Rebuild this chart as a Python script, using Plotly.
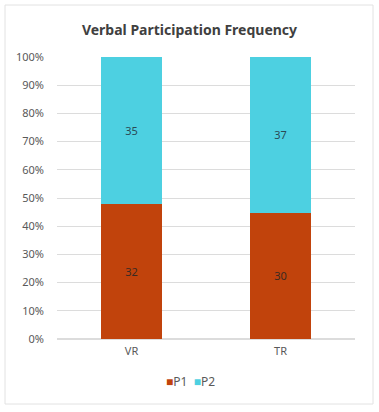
import plotly.graph_objects as go

categories = ["VR", "TR"]
p1_values = [32, 30]
p2_values = [35, 37]
tick_vals = [0, 10, 20, 30, 40, 50, 60, 70, 80, 90, 100]
tick_text = [f"{v}%" for v in tick_vals]
series_names = ["P1", "P2"]

FONT = "Noto Sans, Open Sans, sans-serif"
P1_COLOR = "#C1430C"
P2_COLOR = "#4DD0E1"

fig = go.Figure()
fig.add_trace(go.Bar(
    name=series_names[0], x=categories, y=p1_values,
    marker=dict(color=P1_COLOR, line=dict(width=0)),
    text=[str(v) for v in p1_values], textposition="inside",
    insidetextanchor="middle",
    textfont=dict(color="#3a2a22", size=11, family=FONT),
    showlegend=False,
))
fig.add_trace(go.Bar(
    name=series_names[1], x=categories, y=p2_values,
    marker=dict(color=P2_COLOR, line=dict(width=0)),
    text=[str(v) for v in p2_values], textposition="inside",
    insidetextanchor="middle",
    textfont=dict(color="#2b4a55", size=11, family=FONT),
    showlegend=False,
))

fig.update_layout(
    barmode="stack",
    barnorm="percent",
    bargap=0.59,
    width=379, height=412,
    margin=dict(l=57, r=24, t=57, b=73, autoexpand=False),
    paper_bgcolor="white",
    plot_bgcolor="white",
    font=dict(family=FONT, color="#595959", size=11),
    title=dict(
        text="<b>Verbal Participation Frequency</b>",
        x=0.5, xref="container", xanchor="center",
        y=1 - 30 / 412, yref="container", yanchor="middle",
        font=dict(size=14, color="#404040", family=FONT),
    ),
    showlegend=False,
)
fig.update_yaxes(
    range=[0, 100],
    tickvals=tick_vals, ticktext=tick_text,
    showgrid=True, gridcolor="#dcdcdc", gridwidth=1,
    zeroline=True, zerolinecolor="#dcdcdc",
    showline=False, ticks="",
    ticklabelstandoff=12,
    tickfont=dict(size=11, color="#595959"),
    automargin=False,
    fixedrange=True,
)
fig.update_xaxes(
    showline=False, ticks="",
    tickfont=dict(size=11, color="#595959"),
    ticklabelstandoff=4,
    automargin=False,
)

# legend drawn as text: small coloured squares next to series names
legend_text = (
    f"<span style='color:{P1_COLOR}'>■</span>{series_names[0]}"
    f"&nbsp;&nbsp;<span style='color:{P2_COLOR}'>■</span>{series_names[1]}"
)
fig.add_annotation(
    text=legend_text, xref="paper", yref="paper",
    x=(190 - 57) / 298, y=(339 - 381) / 282,
    xanchor="center", yanchor="middle", showarrow=False,
    font=dict(size=12, color="#595959", family=FONT),
)

# light outer frame of the chart
fig.add_shape(
    type="rect", xref="paper", yref="paper",
    x0=(5 - 57) / 298, x1=(373 - 57) / 298,
    y0=(339 - 404) / 282, y1=(339 - 5) / 282,
    line=dict(color="#e2e2e2", width=1), fillcolor="rgba(0,0,0,0)",
    layer="below",
)

fig.write_html(
    "out.html",
    config={"displayModeBar": False},
    post_script="document.body.style.margin='0';",
)
